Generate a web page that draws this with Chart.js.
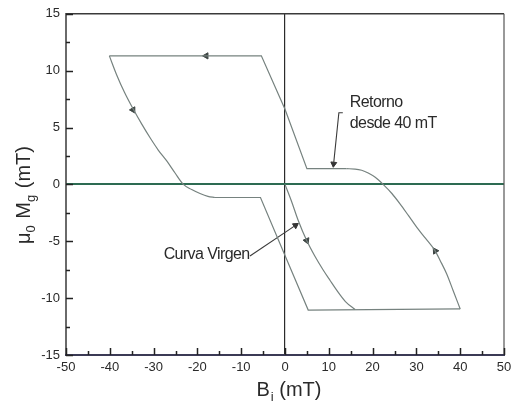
<!DOCTYPE html>
<html>
<head>
<meta charset="utf-8">
<script src="https://cdn.jsdelivr.net/npm/chart.js@4.4.1/dist/chart.umd.min.js"></script>
<style>
html,body{margin:0;padding:0;background:#fff;}
#wrap{width:521px;height:408px;}
</style>
</head>
<body>
<div id="wrap"><canvas id="c" width="521" height="408"></canvas></div>
<script>
// ---- tick labels ----
const xTicks = [-50, -40, -30, -20, -10, 0, 10, 20, 30, 40, 50];
const yTicks = [-15, -10, -5, 0, 5, 10, 15];

// ---- hysteresis branches (B_i in mT, mu0*Mg in mT) ----
const upperStraightX = [14, 5, 0, -5.4, -40.1];
const upperStraightY = [1.38, 1.38, 6.6, 11.3, 11.3];

const leftCurveX = [-40.1, -38.4, -36.6, -34.6, -32.7, -30.8, -28.9, -27.0, -25.1, -23.2, -21.3, -19.4, -17.6, -16.0];
const leftCurveY = [11.3, 9.6, 8.05, 6.58, 5.3, 4.1, 3.0, 2.06, 1.0, 0, -0.45, -0.8, -1.05, -1.15];

const lowerStraightX = [-16.0, -5.6, 0, 5.3, 40];
const lowerStraightY = [-1.15, -1.15, -6.26, -11.05, -10.95];

const rightCurveX = [40, 38.4, 36.9, 35.5, 34.2, 32.1, 30.1, 28.2, 26.3, 24.4, 22.4, 20.6, 19.0, 17.5, 16.0, 14];
const rightCurveY = [-10.95, -9.35, -7.86, -6.75, -5.8, -4.75, -3.78, -2.75, -1.73, -0.8, 0, 0.62, 1.0, 1.24, 1.35, 1.38];

const virginX = [0, 1.5, 3.0, 4.95, 6.8, 8.75, 10.3, 11.8, 13.8, 16];
const virginY = [0, -1.5, -3.15, -4.94, -6.3, -7.55, -8.45, -9.3, -10.3, -11.0];

// direction arrows on the loop
const arrowX = [-18, -34.7, 4.95, 34.3];
const arrowY = [11.3, 6.55, -4.94, -5.85];
const arrowRot = [-90, 150, 157, -33];

// annotation leaders
const virginLeaderX = [-8.0, 2.4];
const virginLeaderY = [-6.3, -3.6];
const retornoLeaderX = [13.2, 12.3, 11.1];
const retornoLeaderY = [6.3, 6.3, 1.8];
const leaderArrowX = [2.4, 11.1];
const leaderArrowY = [-3.6, 1.8];
const leaderArrowRot = [56, 186];

// annotation labels
const annotTexts = ["Retorno", "desde 40 mT", "Curva Virgen"];

const FONT = '"Liberation Sans", Arial, Helvetica, sans-serif';
const curveColor = '#76827f';

function pts(xs, ys){ return xs.map((x,i)=>({x:x, y:ys[i]})); }
function line(xs, ys, smooth, color, width){
  const d = {data: pts(xs,ys), showLine:true, pointRadius:0, borderColor:color||curveColor,
          borderWidth:width||1.2, tension:smooth?0.4:0, fill:false};
  if (smooth) d.cubicInterpolationMode = 'monotone';
  return d;
}

const overlay = {
  id:'overlay',
  afterDraw(chart){
    const c = chart.ctx, a = chart.chartArea;
    const xs = chart.scales.x, ys = chart.scales.y;
    c.save();
    c.setLineDash([]);
    // frame
    c.lineWidth = 1.5;
    c.strokeStyle = '#3a3a3a';
    c.beginPath();
    c.moveTo(a.left, a.bottom); c.lineTo(a.left, a.top); c.lineTo(a.right, a.top);
    c.stroke();
    c.strokeStyle = '#555';
    c.lineWidth = 1.2;
    c.beginPath(); c.moveTo(a.right, a.top); c.lineTo(a.right, a.bottom); c.stroke();
    c.strokeStyle = '#3b3a55';
    c.lineWidth = 2;
    c.beginPath(); c.moveTo(a.left-1, a.bottom); c.lineTo(a.right+1, a.bottom); c.stroke();

    // inward ticks
    c.strokeStyle = '#222';
    c.lineWidth = 1.5;
    c.beginPath();
    for (let i=0;i<yTicks.length;i++){
      const py = Math.round(ys.getPixelForValue(yTicks[i])) + 0.5;
      c.moveTo(a.left, py); c.lineTo(a.left+7, py);
      if (i<yTicks.length-1){
        const pm = Math.round(ys.getPixelForValue((yTicks[i]+yTicks[i+1])/2)) + 0.5;
        c.moveTo(a.left, pm); c.lineTo(a.left+4, pm);
      }
    }
    for (let i=0;i<xTicks.length;i++){
      const px = Math.round(xs.getPixelForValue(xTicks[i])) + 0.5;
      c.moveTo(px, a.bottom); c.lineTo(px, a.bottom-7);
      if (i<xTicks.length-1){
        const pm = Math.round(xs.getPixelForValue((xTicks[i]+xTicks[i+1])/2)) + 0.5;
        c.moveTo(pm, a.bottom); c.lineTo(pm, a.bottom-4);
      }
    }
    c.stroke();

    // annotation texts
    c.fillStyle = '#2a2a2a';
    c.font = '16px ' + FONT;
    c.letterSpacing = '-0.6px';
    c.textBaseline = 'middle';
    c.textAlign = 'left';
    c.fillText(annotTexts[0], xs.getPixelForValue(14.8), ys.getPixelForValue(7.2));
    c.fillText(annotTexts[1], xs.getPixelForValue(14.8), ys.getPixelForValue(5.35));
    c.textAlign = 'right';
    c.fillText(annotTexts[2], xs.getPixelForValue(-8.1), ys.getPixelForValue(-6.15));

    // axis titles with subscripts
    c.letterSpacing = '0px';
    c.textAlign = 'left';
    c.textBaseline = 'alphabetic';
    const big = '20px ' + FONT, small = '13px ' + FONT;
    // x title: B_i (mT)
    c.font = big; const wB = c.measureText('B').width;
    c.font = small; const wi = c.measureText('i').width;
    c.font = big; const wr = c.measureText(' (mT)').width;
    const tot = wB + wi + 1 + wr;
    let x0 = (a.left + a.right)/2 + 4 - tot/2;
    const by = 396;
    c.font = big; c.fillText('B', x0, by);
    c.font = small; c.fillText('i', x0 + wB + 1, by + 5);
    c.font = big; c.fillText(' (mT)', x0 + wB + wi + 1, by);

    // y title: mu0 Mg (mT), rotated
    c.translate(30, 195);
    c.rotate(-Math.PI/2);
    const parts = [['\u03bc', big, 0], ['0', small, 5], [' M', big, 0], ['g', small, 5], [' (mT)', big, 0]];
    let total = 0;
    parts.forEach(p=>{ c.font = p[1]; total += c.measureText(p[0]).width + (p[1]===small?1:0); });
    let cx = -total/2;
    parts.forEach(p=>{
      c.font = p[1];
      c.fillText(p[0], cx, p[2]);
      cx += c.measureText(p[0]).width + (p[1]===small?1:0);
    });
    c.restore();
  }
};

const tickFont = {family: FONT, size: 13};

new Chart(document.getElementById('c').getContext('2d'), {
  type: 'scatter',
  data: {
    datasets: [
      line(upperStraightX, upperStraightY, false),
      line(leftCurveX, leftCurveY, true),
      line(lowerStraightX, lowerStraightY, false),
      line(rightCurveX, rightCurveY, true),
      line(virginX, virginY, true),
      line(virginLeaderX, virginLeaderY, false, '#3a3a3a', 1.1),
      line(retornoLeaderX, retornoLeaderY, false, '#3a3a3a', 1.1),
      {data: pts(arrowX, arrowY), showLine:false, pointStyle:'triangle', pointRadius:3.6,
       rotation: arrowRot, backgroundColor:'#3d4543', borderColor:'#3d4543', borderWidth:1},
      {data: pts(leaderArrowX, leaderArrowY), showLine:false, pointStyle:'triangle', pointRadius:3.4,
       rotation: leaderArrowRot, backgroundColor:'#333', borderColor:'#333', borderWidth:1}
    ]
  },
  options: {
    responsive: false,
    animation: false,
    devicePixelRatio: 1,
    layout: {padding: {top: 12, right: 17, left: 0, bottom: 0}},
    plugins: {legend: {display: false}, tooltip: {enabled: false}},
    scales: {
      x: {
        type: 'linear', min: xTicks[0], max: xTicks[xTicks.length-1],
        afterBuildTicks(s){ s.ticks = xTicks.map(v=>({value:v})); },
        ticks: {font: tickFont, color: '#2a2a2a', padding: 5, maxRotation: 0, autoSkip: false},
        grid: {drawTicks: false,
               color: c => (c.tick && c.tick.value === 0) ? '#2b2b2b' : 'rgba(0,0,0,0)',
               lineWidth: c => (c.tick && c.tick.value === 0) ? 1.2 : 0},
        border: {display: false},
        afterFit(s){ s.height = 53; }
      },
      y: {
        type: 'linear', min: yTicks[0], max: yTicks[yTicks.length-1],
        afterBuildTicks(s){ s.ticks = yTicks.map(v=>({value:v})); },
        ticks: {font: tickFont, color: '#2a2a2a', padding: 6, autoSkip: false},
        grid: {drawTicks: false,
               color: c => (c.tick && c.tick.value === 0) ? '#2d6b52' : 'rgba(0,0,0,0)',
               lineWidth: c => (c.tick && c.tick.value === 0) ? 2 : 0},
        border: {display: false},
        afterFit(s){ s.width = 66; }
      }
    }
  },
  plugins: [overlay]
});
</script>
</body>
</html>
